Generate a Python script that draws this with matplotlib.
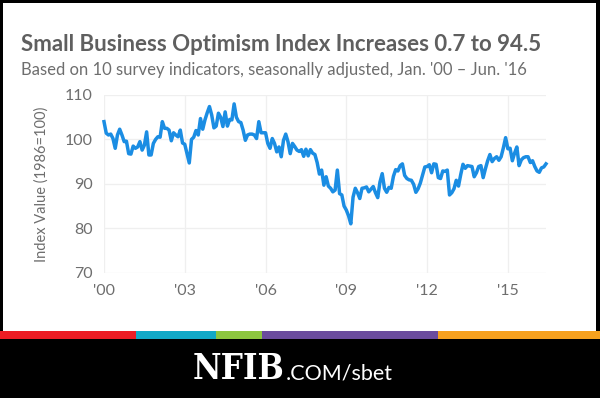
import numpy as np
import matplotlib
matplotlib.use("Agg")

import matplotlib.pyplot as plt
import matplotlib.patches as mpatches

# monthly index values, Jan 2000 - Jun 2016
v2000 = [104.0, 101.4, 101.0, 101.2, 100.2, 98.0, 101.0, 102.3, 101.0, 99.5, 99.6, 96.8]
v2001 = [96.7, 98.5, 98.0, 98.3, 99.5, 97.6, 98.7, 101.7, 96.5, 96.5, 99.1, 100.0]
v2002 = [100.6, 100.5, 104.0, 102.5, 102.5, 102.1, 99.7, 101.5, 101.0, 100.6, 102.1, 99.2]
v2003 = [98.9, 96.8, 94.7, 100.0, 100.5, 102.0, 101.0, 104.7, 102.3, 104.4, 106.0, 107.4]
v2004 = [105.5, 102.6, 103.0, 105.9, 105.0, 102.9, 106.2, 103.0, 104.5, 104.4, 108.0, 105.0]
v2005 = [104.0, 103.8, 102.1, 99.8, 101.0, 101.2, 101.2, 101.0, 100.2, 104.0, 101.5, 101.5]
v2006 = [101.5, 99.1, 98.0, 100.2, 99.1, 97.2, 98.3, 96.1, 99.8, 101.2, 99.5, 96.8]
v2007 = [99.1, 98.4, 97.6, 97.3, 97.7, 96.2, 97.8, 96.3, 97.7, 96.9, 96.6, 94.8]
v2008 = [92.2, 93.1, 89.7, 91.6, 89.5, 89.0, 88.2, 88.6, 93.1, 87.8, 87.5, 85.0]
v2009 = [84.1, 82.8, 81.0, 87.0, 89.0, 88.0, 86.7, 89.0, 89.1, 89.3, 88.2, 88.8]
v2010 = [89.4, 88.0, 86.9, 90.4, 92.3, 89.0, 88.1, 89.2, 89.0, 91.7, 93.2, 92.9]
v2011 = [94.1, 94.5, 91.9, 91.2, 90.9, 90.8, 89.9, 88.1, 88.9, 90.2, 92.0, 93.8]
v2012 = [93.9, 94.3, 92.5, 94.5, 94.4, 91.4, 91.2, 92.9, 92.8, 93.1, 87.5, 88.0]
v2013 = [88.9, 90.8, 89.5, 92.1, 94.4, 93.5, 94.1, 94.0, 93.9, 91.6, 92.5, 93.9]
v2014 = [94.1, 91.4, 93.4, 95.2, 96.6, 95.0, 95.7, 96.1, 95.3, 96.1, 98.1, 100.4]
v2015 = [97.9, 98.0, 95.2, 96.9, 98.3, 94.1, 95.4, 95.9, 96.1, 96.1, 94.8, 95.2]
v2016 = [93.9, 92.9, 92.6, 93.6, 93.8, 94.5]

years = [2000, 2003, 2006, 2009, 2012, 2015]
year_labels = ["'00", "'03", "'06", "'09", "'12", "'15"]
y_ticks = [70, 80, 90, 100, 110]

values = np.array(v2000 + v2001 + v2002 + v2003 + v2004 + v2005 + v2006 + v2007
                  + v2008 + v2009 + v2010 + v2011 + v2012 + v2013 + v2014
                  + v2015 + v2016)
t = 2000 + np.arange(len(values)) / 12.0

stripe_colors = ["#ed1c24", "#12a9c7", "#8dc63f", "#6b4c9e", "#f7a11e"]
stripe_edges = [0, 136, 216, 262, 438, 600]

W, H = 600, 398
fig = plt.figure(figsize=(W / 100, H / 100), dpi=100)
fig.patch.set_facecolor("black")

# white card
fig.patches.append(mpatches.Rectangle((3 / W, 1 - 331 / H), 593 / W, 328 / H,
                                      transform=fig.transFigure,
                                      facecolor="white", edgecolor="none", zorder=-2))
# coloured stripe
for i, col in enumerate(stripe_colors):
    x0 = stripe_edges[i]
    x1 = stripe_edges[i + 1]
    fig.patches.append(mpatches.Rectangle((x0 / W, 1 - 339 / H), (x1 - x0) / W, 8 / H,
                                          transform=fig.transFigure,
                                          facecolor=col, edgecolor="none", zorder=-1))

ax = fig.add_axes([104 / W, 1 - 272.7 / H, 442 / W, 177.7 / H])
ax.set_zorder(2)
ax.set_facecolor("white")
ax.plot(t, values, color="#1b8de3", linewidth=2.5, solid_joinstyle="round",
        clip_on=False, zorder=3)

ax.set_xlim(t[0], t[-1])
ax.set_ylim(70, 110)
ax.set_xticks(years)
ax.set_xticklabels(year_labels)
ax.set_yticks(y_ticks)
ax.grid(True, color="#efefef", linewidth=0.9)
ax.set_axisbelow(True)
for s in ax.spines.values():
    s.set_visible(False)
ax.tick_params(length=0, colors="#6e6e6e", labelsize=11.5, pad=8)
for lab in ax.get_xticklabels() + ax.get_yticklabels():
    lab.set_family("Lato")

ax.set_ylabel("Index Value (1986=100)", family="Lato", fontsize=10.5,
              color="#6e6e6e", labelpad=12)

fig.text(21 / W, 1 - 51 / H, "Small Business Optimism Index Increases 0.7 to 94.5",
         family="Lato", fontsize=16, fontweight="bold", color="#5f5f5f")
fig.text(21 / W, 1 - 75 / H,
         "Based on 10 survey indicators, seasonally adjusted, Jan. '00 \u2013 Jun. '16",
         family="Lato", fontsize=12, color="#6e6e6e")

# logo
fig.text(285 / W, 1 - 379 / H, "NFIB", family="DejaVu Serif", fontweight="bold",
         fontstretch="condensed", fontsize=25, color="white", ha="right")
fig.text(286 / W, 1 - 379 / H, ".COM/sbet", family="Lato", fontsize=15.5,
         color="white", ha="left")

fig.savefig("out.png", dpi=100, facecolor=fig.get_facecolor())
